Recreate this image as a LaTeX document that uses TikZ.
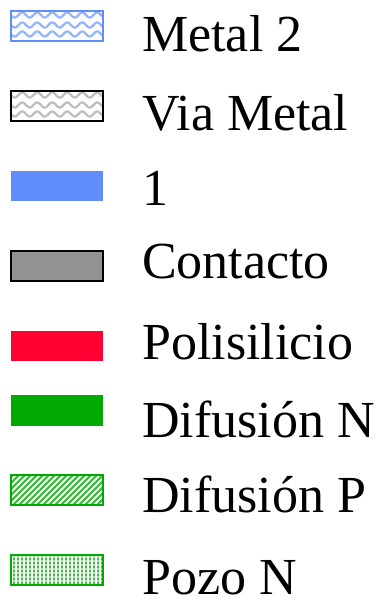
\documentclass[tikz,border=0pt]{standalone}
\usepackage{fontspec}
\setmainfont{Liberation Serif}
\definecolor{metalblue}{RGB}{95,141,250}
\definecolor{wavyblue}{RGB}{150,180,250}
\definecolor{wavygray}{RGB}{190,190,190}
\definecolor{contactgray}{RGB}{146,146,146}
\definecolor{polyred}{RGB}{255,0,48}
\definecolor{diffgreen}{RGB}{0,170,0}
\tikzset{
  swatch/.style={minimum width=92pt, minimum height=30pt, inner sep=0pt,
    outer sep=0pt, anchor=north west},
  label/.style={anchor=base west, inner sep=0pt, font=\fontsize{52pt}{60pt}\selectfont}
}
% pattern fillers for a 92x30 box whose top-left corner is (#1,#2)
\newcommand{\wavefill}[3]{%
  \begin{scope}
    \clip (#1,#2) rectangle ++(92,30);
    \foreach \r in {4,14,23}
      \draw[#3, line width=2.2pt]
        plot[domain=-2:95, samples=90, smooth] ({#1+\x}, {#2+\r+2.6*sin(24*\x)});
  \end{scope}}
\newcommand{\stripefill}[3]{%
  \begin{scope}
    \clip (#1,#2) rectangle ++(92,30);
    \foreach \s in {-36,-30,...,100}
      \draw[#3, line width=2pt] ({#1+\s},{#2+32}) -- ({#1+\s+34},{#2-2});
  \end{scope}}
\newcommand{\gridfill}[3]{%
  \begin{scope}
    \clip (#1,#2) rectangle ++(92,30);
    \foreach \c in {2,6,...,90}
      \draw[#3!35, line width=1.2pt] ({#1+\c+1},#2) -- ({#1+\c+1},{#2+30});
    \foreach \c in {2,6,...,90}
      \foreach \r in {3,7,...,27}
        \fill[#3!75] ({#1+\c},{#2+\r}) rectangle ++(2,2);
  \end{scope}}
\begin{document}
\begin{tikzpicture}[x=1pt, y=-1pt]
  \useasboundingbox (0,0) rectangle (381,599);

  % patterned interiors
  \wavefill{11}{11}{wavyblue}
  \wavefill{11}{91}{wavygray}
  \stripefill{11}{475}{diffgreen!80}
  \gridfill{11}{555}{diffgreen}

  % swatches
  \node[swatch, draw=metalblue, line width=1.5pt] (m2) at (11,11) {};
  \node[swatch, draw=black, line width=1.5pt] (via) at (11,91) {};
  \node[swatch, fill=metalblue] (m1) at (11,171) {};
  \node[swatch, draw=black, line width=1.5pt, fill=contactgray] (cont) at (11,251) {};
  \node[swatch, fill=polyred] (poly) at (11,331) {};
  \node[swatch, fill=diffgreen, minimum height=31pt] (dn) at (11,395) {};
  \node[swatch, draw=diffgreen, line width=1.5pt] (dp) at (11,475) {};
  \node[swatch, draw=diffgreen, line width=1.5pt] (well) at (11,555) {};

  % labels
  \node[label] (tm2) at (142,52) {Metal 2};
  \node[label] (tvia) at (142,130) {Via Metal};
  \node[label] (tm1) at (142,205) {1};
  \node[label] (tcont) at (142,278) {Contacto};
  \node[label] (tpoly) at (142,359) {Polisilicio};
  \node[label] (tdn) at (142,437) {Difusión N};
  \node[label] (tdp) at (142,512) {Difusión P};
  \node[label] (twell) at (142,594) {Pozo N};
\end{tikzpicture}
\end{document}
